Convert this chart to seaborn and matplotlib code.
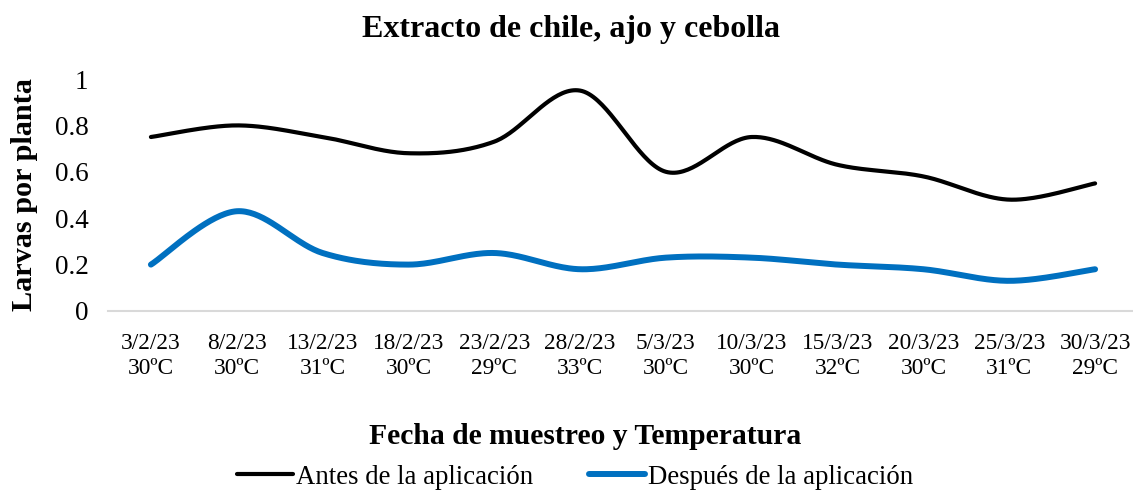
import numpy as np
import pandas as pd
import matplotlib
matplotlib.use("Agg")
import matplotlib.pyplot as plt
import seaborn as sns

fechas = ["3/2/23", "8/2/23", "13/2/23", "18/2/23", "23/2/23", "28/2/23",
          "5/3/23", "10/3/23", "15/3/23", "20/3/23", "25/3/23", "30/3/23"]
temperaturas = ["30ºC", "30ºC", "31ºC", "30ºC", "29ºC", "33ºC",
                "30ºC", "30ºC", "32ºC", "30ºC", "31ºC", "29ºC"]
antes = [0.75, 0.80, 0.75, 0.68, 0.73, 0.95, 0.60, 0.75, 0.63, 0.58, 0.48, 0.55]
despues = [0.20, 0.43, 0.25, 0.20, 0.25, 0.18, 0.23, 0.23, 0.20, 0.18, 0.13, 0.18]

series_names = ["Antes de la aplicación", "Después de la aplicación"]
colors = ["#000000", "#0070C0"]
widths = [3.0, 4.3]


def smooth_curve(values, steps=40):
    """Cubic Bezier smoothing through each point (Catmull-Rom style)."""
    y = np.asarray(values, dtype=float)
    x = np.arange(len(y), dtype=float)
    xp = np.concatenate([[x[0]], x, [x[-1]]])
    yp = np.concatenate([[y[0]], y, [y[-1]]])
    xs, ys = [], []
    t = np.linspace(0, 1, steps)
    for i in range(len(y) - 1):
        p0 = np.array([x[i], y[i]])
        p3 = np.array([x[i + 1], y[i + 1]])
        p1 = p0 + (np.array([xp[i + 2], yp[i + 2]]) - np.array([xp[i], yp[i]])) / 6
        p2 = p3 - (np.array([xp[i + 3], yp[i + 3]]) - np.array([xp[i + 1], yp[i + 1]])) / 6
        b = ((1 - t) ** 3)[:, None] * p0 + (3 * (1 - t) ** 2 * t)[:, None] * p1 \
            + (3 * (1 - t) * t ** 2)[:, None] * p2 + (t ** 3)[:, None] * p3
        if i > 0:
            b = b[1:]
        xs.append(b[:, 0])
        ys.append(b[:, 1])
    return np.concatenate(xs), np.concatenate(ys)


frames = []
for name, vals in zip(series_names, [antes, despues]):
    sx, sy = smooth_curve(vals)
    frames.append(pd.DataFrame({"x": sx, "y": sy, "serie": name}))
df = pd.concat(frames, ignore_index=True)

sns.set_theme(style="white")
plt.rcParams["font.family"] = ["Liberation Serif", "DejaVu Serif"]
plt.rcParams["text.color"] = "black"

fig = plt.figure(figsize=(11.33, 4.92), dpi=100)
ax = fig.add_axes([108 / 1133, 181 / 492, 1030 / 1133, 232 / 492])

for name, c, lw in zip(series_names, colors, widths):
    sub = df[df["serie"] == name]
    sns.lineplot(data=sub, x="x", y="y", sort=False, color=c, linewidth=lw,
                 solid_capstyle="round", ax=ax, estimator=None)

ax.set_xlim(-0.5, 11.5)
ax.set_ylim(0, 1)
ax.set_yticks([0, 0.2, 0.4, 0.6, 0.8, 1.0])
ax.set_yticklabels(["0", "0.2", "0.4", "0.6", "0.8", "1"], fontsize=19.5)
ax.set_xticks(range(len(fechas)))
ax.set_xticklabels([f"{f}\n{t}" for f, t in zip(fechas, temperaturas)],
                   fontsize=16.8, linespacing=1.22)
ax.tick_params(axis="both", length=0, colors="black")
ax.tick_params(axis="y", pad=14)
ax.tick_params(axis="x", pad=16)

for s in ["top", "right", "left"]:
    ax.spines[s].set_visible(False)
ax.spines["bottom"].set_color("#d9d9d9")
ax.spines["bottom"].set_linewidth(1.5)
ax.grid(False)

ax.set_xlabel("")
ax.set_ylabel("")
fig.text(25 / 1133, 1 - 195 / 492, "Larvas por planta", rotation=90,
         ha="center", va="center", fontsize=21.8, fontweight="bold")

fig.text(571 / 1133, 1 - 30 / 492, "Extracto de chile, ajo y cebolla",
         ha="center", va="center", fontsize=23, fontweight="bold")
fig.text(585 / 1133, 1 - 437 / 492, "Fecha de muestreo y Temperatura",
         ha="center", va="center", fontsize=21.3, fontweight="bold")

handles = [plt.Line2D([], [], color=c, linewidth=lw, solid_capstyle="round")
           for c, lw in zip(colors, widths)]
fig.legend(handles, series_names, loc="center", ncol=2,
           bbox_to_anchor=(575 / 1133, 1 - 477 / 492), frameon=False,
           fontsize=19.3, handlelength=2.1, handletextpad=0.1, columnspacing=2.1)

fig.savefig("out.png", dpi=100)
